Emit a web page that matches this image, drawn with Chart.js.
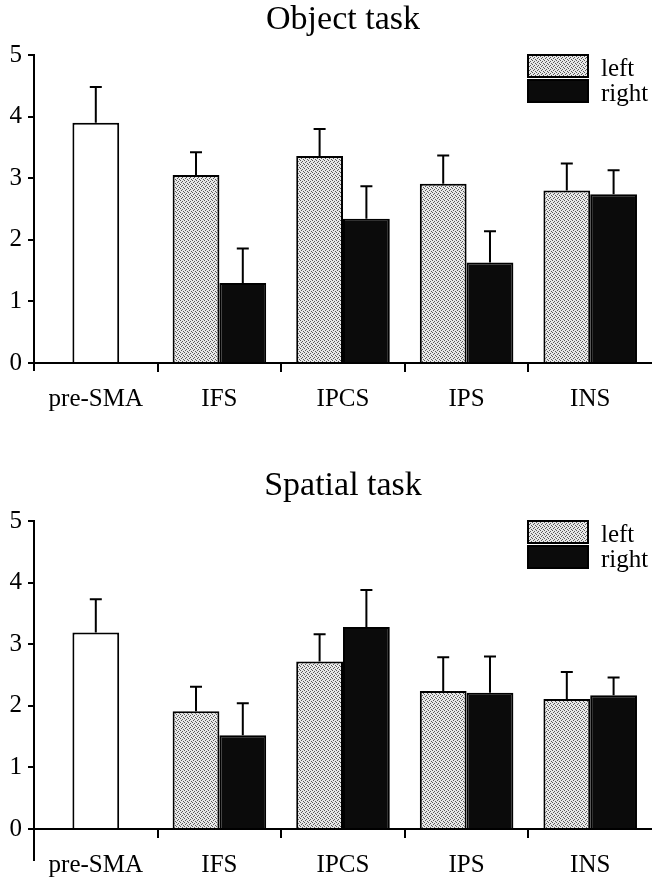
<!DOCTYPE html>
<html>
<head>
<meta charset="utf-8">
<title>Object task / Spatial task</title>
<script src="https://cdn.jsdelivr.net/npm/chart.js@4.4.1/dist/chart.umd.min.js"></script>
<style>
  body { margin: 0; background: #fff; overflow: hidden; }
  .panel { position: absolute; left: 0; width: 652px; height: 416px; }
  #object-panel { top: 0; }
  #spatial-panel { top: 466px; }
</style>
</head>
<body>
<div class="panel" id="object-panel"><canvas id="object-task" width="652" height="416"></canvas></div>
<div class="panel" id="spatial-panel"><canvas id="spatial-task" width="652" height="416"></canvas></div>
<script>
const categories = ["pre-SMA", "IFS", "IPCS", "IPS", "INS"];
const yMax = 5;

// object task: pre-SMA is a single bar, the other regions have left / right
const objectPreSma = 3.9;
const objectPreSmaErr = 0.58;
const objectLeft = [3.05, 3.36, 2.91, 2.8];
const objectLeftErr = [0.37, 0.44, 0.46, 0.44];
const objectRight = [1.3, 2.34, 1.63, 2.74];
const objectRightErr = [0.56, 0.53, 0.51, 0.39];

// spatial task
const spatialPreSma = 3.19;
const spatialPreSmaErr = 0.54;
const spatialLeft = [1.91, 2.72, 2.24, 2.11];
const spatialLeftErr = [0.4, 0.44, 0.55, 0.44];
const spatialRight = [1.52, 3.28, 2.21, 2.17];
const spatialRightErr = [0.52, 0.6, 0.59, 0.29];

const FONT = "'Liberation Serif', 'Times New Roman', serif";

function stipple() {
  const c = document.createElement("canvas");
  c.width = 4;
  c.height = 4;
  const g = c.getContext("2d");
  g.fillStyle = "#e8e8e8";
  g.fillRect(0, 0, 4, 4);
  g.fillStyle = "#5a5a5a";
  [[0, 0], [2, 1], [1, 2], [3, 3]].forEach(function (p) {
    g.fillRect(p[0], p[1], 1, 1);
  });
  return g.createPattern(c, "repeat");
}

// upward error bars with a small cap
const errorBars = {
  id: "errorBars",
  afterDatasetsDraw(chart) {
    const ctx = chart.ctx;
    const y = chart.scales.y;
    chart.data.datasets.forEach(function (ds, i) {
      chart.getDatasetMeta(i).data.forEach(function (bar, j) {
        const v = ds.data[j];
        const e = ds.errors[j];
        if (v == null || e == null) return;
        const top = y.getPixelForValue(v + e);
        ctx.save();
        ctx.strokeStyle = "#000";
        ctx.lineWidth = 2;
        ctx.beginPath();
        ctx.moveTo(bar.x, y.getPixelForValue(v));
        ctx.lineTo(bar.x, top);
        ctx.moveTo(bar.x - 6, top);
        ctx.lineTo(bar.x + 6, top);
        ctx.stroke();
        ctx.restore();
      });
    });
  },
};

// legend boxes in the upper right corner + y axis running below zero
const boxLegend = {
  id: "boxLegend",
  afterDraw(chart) {
    const ctx = chart.ctx;
    const area = chart.chartArea;
    let top = area.top;
    ctx.save();
    ctx.font = "25px " + FONT;
    ctx.textBaseline = "alphabetic";
    ctx.lineWidth = 2;
    ctx.strokeStyle = "#000";
    chart.data.datasets.forEach(function (ds) {
      if (!ds.inLegend) return;
      const x = area.right - 124;
      ctx.fillStyle = ds.backgroundColor;
      ctx.fillRect(x, top, 60, 22);
      ctx.strokeRect(x, top, 60, 22);
      ctx.fillStyle = "#000";
      ctx.fillText(ds.label, x + 73, top + 21);
      top += 25;
    });
    const tail = chart.options.plugins.boxLegend.axisTail;
    ctx.beginPath();
    ctx.moveTo(area.left, area.bottom);
    ctx.lineTo(area.left, area.bottom + tail);
    ctx.stroke();
    ctx.restore();
  },
};

function makeChart(el, title, preSma, preSmaErr, left, leftErr, right, rightErr, tail, grey) {
  new Chart(el, {
    type: "bar",
    data: {
      labels: categories,
      datasets: [
        {
          label: "pre-SMA",
          data: [preSma, null, null, null, null],
          errors: [preSmaErr, null, null, null, null],
          backgroundColor: "#fff",
          barPercentage: 0.5,
        },
        {
          label: "left",
          data: [null].concat(left),
          errors: [null].concat(leftErr),
          backgroundColor: grey,
          inLegend: true,
        },
        {
          label: "right",
          data: [null].concat(right),
          errors: [null].concat(rightErr),
          backgroundColor: "#0b0b0b",
          inLegend: true,
        },
      ],
    },
    options: {
      responsive: false,
      animation: false,
      datasets: {
        bar: {
          skipNull: true,
          categoryPercentage: 0.757,
          barPercentage: 1,
          borderColor: "#000",
          borderWidth: 2,
        },
      },
      scales: {
        x: {
          afterFit: function (scale) {
            scale.height = 53;
          },
          grid: {
            drawOnChartArea: false,
            tickLength: 9,
            lineWidth: 2,
            color: function (c) {
              return c.index === undefined || c.index === 0 ? "rgba(0,0,0,0)" : "#000";
            },
          },
          border: { color: "#000", width: 2 },
          ticks: { color: "#000", padding: 12, font: { family: FONT, size: 25 } },
        },
        y: {
          min: 0,
          max: yMax,
          afterFit: function (scale) {
            scale.width = 34;
          },
          grid: { drawOnChartArea: false, tickLength: 6, lineWidth: 2, color: "#000" },
          border: { color: "#000", width: 2 },
          ticks: { stepSize: 1, color: "#000", padding: 6, font: { family: FONT, size: 25 } },
        },
      },
      plugins: {
        legend: { display: false },
        tooltip: { enabled: false },
        title: {
          display: true,
          text: title,
          fullSize: false,
          color: "#000",
          font: { family: FONT, size: 34, weight: "normal", lineHeight: 1.2 },
          padding: { top: 0, bottom: 14.2 },
        },
        boxLegend: { axisTail: tail },
      },
    },
    plugins: [errorBars, boxLegend],
  });
}

document.addEventListener("DOMContentLoaded", function () {
  const grey = stipple();
  makeChart(document.getElementById("object-task"), "Object task",
    objectPreSma, objectPreSmaErr, objectLeft, objectLeftErr, objectRight, objectRightErr, 8, grey);
  makeChart(document.getElementById("spatial-task"), "Spatial task",
    spatialPreSma, spatialPreSmaErr, spatialLeft, spatialLeftErr, spatialRight, spatialRightErr, 32, grey);
});
</script>
</body>
</html>
